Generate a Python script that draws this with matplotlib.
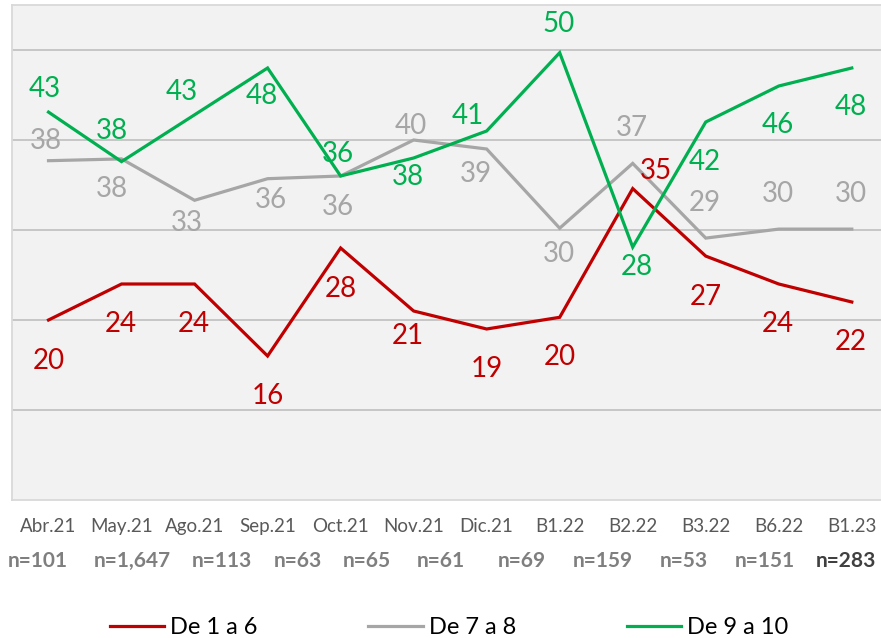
import matplotlib
matplotlib.use("Agg")
import matplotlib.pyplot as plt
from matplotlib.lines import Line2D

# Data
periods = ["Abr.21", "May.21", "Ago.21", "Sep.21", "Oct.21", "Nov.21",
           "Dic.21", "B1.22", "B2.22", "B3.22", "B6.22", "B1.23"]
sample_sizes = ["n=101", "n=1,647", "n=113", "n=63", "n=65", "n=61",
                "n=69", "n=159", "n=53", "n=151", "n=283"]
low = [20, 24, 24, 16, 28, 21, 19, 20.3, 34.6, 27.1, 24, 22]
mid = [37.7, 37.9, 33.3, 35.7, 36.0, 40.0, 39.0, 30.2, 37.4, 29.1, 30.1, 30.1]
high = [43.1, 37.6, 42.8, 48.0, 36.0, 38.0, 41.0, 49.7, 28.1, 42.0, 46.0, 48.0]
series_names = ["De 1 a 6", "De 7 a 8", "De 9 a 10"]

# label offsets in pixels (dx, dy with dy pointing down), tuned by eye
low_off = [(0, 41), (-1, 40), (-1, 40), (0, 40), (0, 41), (-6, 25),
           (0, 40), (0, 40), (23, -18), (0, 41), (-1, 40), (-1, 40)]
mid_off = [(-3, -20), (-10, 30), (-8, 23), (3, 21), (-3, 31), (-3, -14),
           (-11, 25), (-1, 26), (-1, -35), (-1, -35), (-1, -35), (-1, -35)]
high_off = [(-4, -23), (-10, -31), (-13, -23), (-6, 28), (-3, -22), (-6, 19),
            (-19, -15), (-1, -29), (4, 20), (-1, 40), (-1, 39), (-1, 39)]

# pixel centres of the sample-size row (it is a free text box, not on the ticks)
n_xpix = [38, 132, 222, 298, 367, 441, 522, 603, 684, 765, 846]

RED = "#c00000"
GRAY = "#a6a6a6"
GREEN = "#00b050"
FONT = "Lato"

W, H = 881, 638
fig = plt.figure(figsize=(W / 100, H / 100), dpi=100)
fig.patch.set_facecolor("white")

ax = fig.add_axes([12 / W, 138 / H, 869 / W, 495 / H])
ax.set_facecolor("#f2f2f2")
ax.set_xlim(-0.5, 11.4)
ax.set_ylim(0, 55)

for yv in [10, 20, 30, 40, 50]:
    ax.axhline(yv, color="#bfbfbf", lw=1.2, zorder=1)

for side in ["left", "top", "bottom"]:
    ax.spines[side].set_color("#d9d9d9")
    ax.spines[side].set_linewidth(1.3)
ax.spines["right"].set_visible(False)

x = list(range(len(periods)))
for vals, col, offs in [(low, RED, low_off), (mid, GRAY, mid_off), (high, GREEN, high_off)]:
    ax.plot(x, vals, color=col, lw=2.3, solid_joinstyle="miter", zorder=3)
    for xi, v, (dx, dy) in zip(x, vals, offs):
        ax.annotate(f"{v:.0f}", (xi, v), xytext=(dx * 0.72, -dy * 0.72),
                    textcoords="offset points", ha="center", va="center",
                    color=col, fontsize=20, family=FONT, zorder=4)

ax.set_xticks(x)
ax.set_xticklabels(periods, family=FONT, fontsize=13.5, color="#595959")
ax.set_yticks([])
ax.tick_params(axis="x", length=0, pad=13)

for i, (lab, px) in enumerate(zip(sample_sizes, n_xpix)):
    last = i == len(sample_sizes) - 1
    fig.text(px / W, 1 - 561 / H, lab, ha="center", va="center",
             family=FONT, fontsize=15, fontweight="bold",
             color="#404040" if last else "#7f7f7f")

handles = [Line2D([], [], color=c, lw=2.3) for c in [RED, GRAY, GREEN]]
fig.legend(handles, series_names, loc="center", bbox_to_anchor=(449 / W, 1 - 628 / H),
           ncol=3, frameon=False, handlelength=2.3, handletextpad=0.25,
           columnspacing=4.7, prop={"family": FONT, "size": 17})

fig.savefig("out.png", dpi=100, facecolor="white")
